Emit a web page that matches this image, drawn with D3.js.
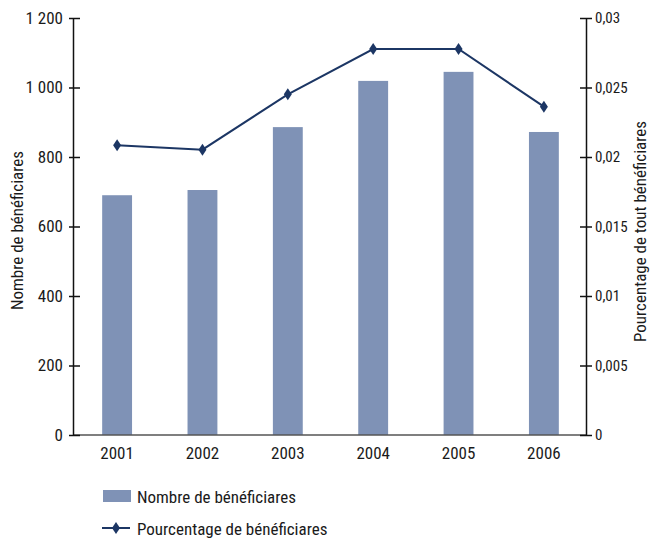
<!DOCTYPE html>
<html>
<head>
<meta charset="utf-8">
<script src="https://cdn.jsdelivr.net/npm/d3@7"></script>
<style>
  body { margin: 0; background: #fff; }
  svg text { font-family: "Liberation Sans Narrow", "Roboto Condensed", "Liberation Sans", sans-serif; fill: #1a1a1a; }
</style>
</head>
<body>
<div id="chart"></div>
<script>
// Données
const annees = ['2001', '2002', '2003', '2004', '2005', '2006'];
const nombreBeneficiaires = [690, 705, 886, 1019, 1045, 872];
const pourcentageBeneficiaires = [0.02084, 0.02053, 0.02451, 0.02777, 0.02777, 0.02362];
const ticksGauche = [0, 200, 400, 600, 800, 1000, 1200];
const ticksDroite = [0, 0.005, 0.01, 0.015, 0.02, 0.025, 0.03];

const width = 652, height = 540;
const plotLeft = 73, plotRight = 586, plotTop = 18, plotBottom = 435;

const barColor = '#7f92b6';
const lineColor = '#1c3664';
const police = '"Liberation Sans Narrow", "Roboto Condensed", sans-serif';

// Formater avec espace comme séparateur de milliers et virgule décimale
function formatGauche(v) {
    return String(v).replace(/\B(?=(\d{3})+(?!\d))/g, ' ');
}
function formatDroite(v) {
    return String(+v.toFixed(3)).replace('.', ',');
}

const svg = d3.select('#chart')
    .append('svg')
    .attr('width', width)
    .attr('height', height);

// Échelles
const x = d3.scaleBand()
    .domain(annees)
    .range([plotLeft, plotRight])
    .paddingInner(0.65)
    .paddingOuter(0.33);

const yG = d3.scaleLinear().domain([0, 1200]).range([plotBottom, plotTop]);
const yD = d3.scaleLinear().domain([0, 0.03]).range([plotBottom, plotTop]);

// Barres
svg.append('g')
    .selectAll('rect')
    .data(annees)
    .join('rect')
    .attr('x', d => x(d) + 1)
    .attr('y', (d, i) => yG(nombreBeneficiaires[i]))
    .attr('width', x.bandwidth())
    .attr('height', (d, i) => yG(0) - yG(nombreBeneficiaires[i]))
    .attr('fill', barColor);

// Ligne de base
svg.append('line')
    .attr('x1', plotLeft).attr('x2', plotRight)
    .attr('y1', plotBottom).attr('y2', plotBottom)
    .attr('stroke', '#555').attr('stroke-width', 1.5);

// Axe gauche
const axeG = svg.append('g')
    .attr('transform', `translate(${plotLeft},0)`)
    .call(d3.axisLeft(yG).tickValues(ticksGauche).tickFormat(formatGauche).tickSizeInner(4).tickSizeOuter(0).tickPadding(6));
axeG.select('.domain').attr('stroke', '#111').attr('stroke-width', 1.5);
axeG.selectAll('.tick line').clone().attr('x2', 7);
axeG.selectAll('.tick line').attr('stroke', '#111').attr('stroke-width', 1.5);
axeG.selectAll('.tick text').attr('font-size', 17).attr('fill', '#1a1a1a')
    .style('font-family', police);

// Axe droit
const axeD = svg.append('g')
    .attr('transform', `translate(${plotRight},0)`)
    .call(d3.axisRight(yD).tickValues(ticksDroite).tickFormat(formatDroite).tickSizeInner(6).tickSizeOuter(0).tickPadding(3));
axeD.select('.domain').attr('stroke', '#111').attr('stroke-width', 1.5);
axeD.selectAll('.tick line').clone().attr('x2', -6);
axeD.selectAll('.tick line').attr('stroke', '#111').attr('stroke-width', 1.5);
axeD.selectAll('.tick text').attr('font-size', 15).attr('fill', '#1a1a1a')
    .style('font-family', police);

// Étiquettes des années
svg.append('g')
    .selectAll('text')
    .data(annees)
    .join('text')
    .attr('x', d => x(d) + x.bandwidth() / 2 + 1)
    .attr('y', 459)
    .attr('text-anchor', 'middle')
    .attr('font-size', 17)
    .text(d => d);

// Ligne des pourcentages
const cx = (d, i) => x(annees[i]) + x.bandwidth() / 2 + 1;
const line = d3.line()
    .x(cx)
    .y(d => yD(d));

svg.append('path')
    .datum(pourcentageBeneficiaires)
    .attr('fill', 'none')
    .attr('stroke', lineColor)
    .attr('stroke-width', 2)
    .attr('d', line);

// Losanges
const losange = 'M0,-6L4,0L0,6L-4,0Z';
svg.append('g')
    .selectAll('path')
    .data(pourcentageBeneficiaires)
    .join('path')
    .attr('transform', (d, i) => `translate(${cx(d, i)},${yD(d)})`)
    .attr('d', losange)
    .attr('fill', lineColor);

// Titres des axes
svg.append('text')
    .attr('transform', 'translate(23,310) rotate(-90)')
    .attr('text-anchor', 'start')
    .attr('font-size', 17)
    .text('Nombre de bénéficiares');

svg.append('text')
    .attr('transform', 'translate(646,342) rotate(-90)')
    .attr('text-anchor', 'start')
    .attr('font-size', 17)
    .text('Pourcentage de tout bénéficiares');

// Légende
const legende = svg.append('g');
legende.append('rect')
    .attr('x', 103).attr('y', 490)
    .attr('width', 28).attr('height', 12)
    .attr('fill', barColor);
legende.append('text')
    .attr('x', 137).attr('y', 503)
    .attr('font-size', 17)
    .text('Nombre de bénéficiares');

legende.append('line')
    .attr('x1', 102).attr('x2', 130)
    .attr('y1', 528).attr('y2', 528)
    .attr('stroke', lineColor).attr('stroke-width', 2);
legende.append('path')
    .attr('transform', 'translate(116,528)')
    .attr('d', losange)
    .attr('fill', lineColor);
legende.append('text')
    .attr('x', 137).attr('y', 535)
    .attr('font-size', 17)
    .text('Pourcentage de bénéficiares');
</script>
</body>
</html>
